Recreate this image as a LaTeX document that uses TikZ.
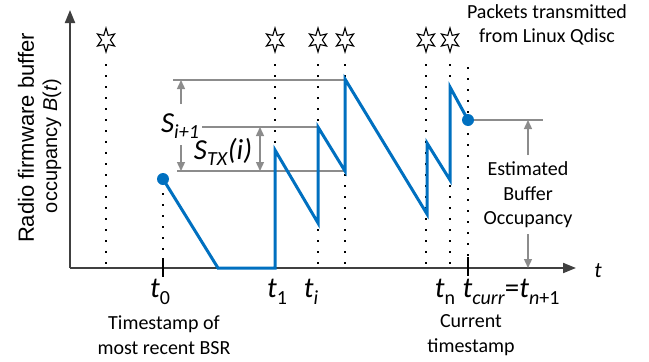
\documentclass[tikz,border=0pt]{standalone}
\usepackage{fontspec}
\setmainfont{Carlito}
\newfontfamily\arialf{Liberation Sans}
\usetikzlibrary{arrows.meta}
\definecolor{curveblue}{HTML}{0070C0}
\definecolor{guidegray}{HTML}{8C8C8C}
\definecolor{axisgray}{HTML}{404040}
\newcommand\sbx[1]{\raisebox{-0.22em}{\fontsize{20}{20}\selectfont #1}}
\tikzset{
  axisline/.style={draw=axisgray,line width=2pt},
  axisarrow/.style={-{Triangle[length=13pt,width=10pt]}},
  dotline/.style={draw=black,line width=2.2pt,dash pattern=on 2pt off 9pt},
  curve/.style={draw=curveblue,line width=3pt,line join=miter},
  guide/.style={draw=guidegray,line width=1.4pt},
  garrow/.style={draw=guidegray,line width=1.4pt,-{Triangle[length=9pt,width=8pt]},fill=guidegray},
  gdarrow/.style={draw=guidegray,line width=1.4pt,{Triangle[length=9pt,width=8pt]}-{Triangle[length=9pt,width=8pt]}},
  txt/.style={font=\fontsize{20}{24.5}\selectfont,align=center,inner sep=0pt},
  tlab/.style={font=\fontsize{29}{30}\selectfont,inner sep=0pt},
  slab/.style={font=\fontsize{29}{30}\selectfont,inner sep=0pt},
  star6/.pic={\draw[line width=1.1pt,xscale=0.82] (90:12) -- (120:5.3) -- (150:12) -- (180:5.3) -- (210:12) -- (240:5.3) -- (270:12) -- (300:5.3) -- (330:12) -- (0:5.3) -- (30:12) -- (60:5.3) -- cycle;},
  bdot/.style={circle,fill=curveblue,inner sep=0pt,minimum size=12pt}
}
\begin{document}
\begin{tikzpicture}[x=1pt,y=-1pt]
\useasboundingbox (0,0) rectangle (649,362);
% axes
\coordinate (O) at (70,268);
\coordinate (ytip) at (70,10);
\coordinate (xtip) at (576,268);
% stars
\foreach \n/\x in {a/106,b/275,c/318,d/345,e/426,f/450}{
  \pic (star\n) at (\x,40) {star6};
  \coordinate (top\n) at (\x,64);
  \coordinate (bot\n) at (\x,268);
}
\coordinate (topz) at (163,193);
\coordinate (botz) at (163,268);
\coordinate (topcur) at (468,67);
\coordinate (botcur) at (468,268);
\foreach \n in {a,b,c,d,e,f,z,cur}{\draw[dotline] (top\n) -- (bot\n);}
% axes drawn
\draw[axisline,axisarrow] (O) -- (ytip);
\draw[axisline,axisarrow] (O) -- (xtip);
\coordinate (tk0a) at (163,258); \coordinate (tk0b) at (163,277);
\coordinate (tkca) at (468,257); \coordinate (tkcb) at (468,276);
\draw[draw=black,line width=1.8pt] (tk0a) -- (tk0b);
\draw[draw=black,line width=1.8pt] (tkca) -- (tkcb);
% guide lines
\coordinate (g1a) at (173,80); \coordinate (g1b) at (345,80);
\coordinate (g2a) at (202,127); \coordinate (g2b) at (318,127);
\coordinate (g3a) at (177,171); \coordinate (g3b) at (345,171);
\coordinate (g4a) at (468,120); \coordinate (g4b) at (543,120);
\draw[guide] (g1a) -- (g1b);
\draw[guide] (g2a) -- (g2b);
\draw[guide] (g3a) -- (g3b);
\draw[guide] (g4a) -- (g4b);
% curve
\coordinate (p0) at (163,179);
\coordinate (p1) at (218,268);
\coordinate (p2) at (275,268);
\coordinate (p3) at (275,150);
\coordinate (p4) at (318,223);
\coordinate (p5) at (318,127);
\coordinate (p6) at (345,171);
\coordinate (p7) at (345,79);
\coordinate (p8) at (427,214);
\coordinate (p9) at (427,143);
\coordinate (p10) at (450,180);
\coordinate (p11) at (450,87);
\coordinate (p12) at (468,120);
\draw[curve] (p0) -- (p1) -- (p2) -- (p3) -- (p4) -- (p5) -- (p6) -- (p7) -- (p8) -- (p9) -- (p10) -- (p11) -- (p12);
\node[bdot] (d0) at (p0) {};
\node[bdot] (d1) at (p12) {};
% gray arrows
\coordinate (a1s) at (181,104); \coordinate (a1e) at (181,80);
\coordinate (a2s) at (181,145); \coordinate (a2e) at (181,171);
\coordinate (a3s) at (260,127); \coordinate (a3e) at (260,171);
\coordinate (a4s) at (528,155); \coordinate (a4e) at (528,120);
\coordinate (a5s) at (528,234); \coordinate (a5e) at (528,268);
\draw[garrow] (a1s) -- (a1e);
\draw[garrow] (a2s) -- (a2e);
\draw[gdarrow] (a3s) -- (a3e);
\draw[garrow] (a4s) -- (a4e);
\draw[garrow] (a5s) -- (a5e);
% S labels
\node[slab] (si1) at (180,126) {\textit{S}\sbx{\textit{i+1}}};
\node[slab] (stx) at (223,152) {\textit{S}\sbx{\textit{TX}}\textit{(i)}};
% texts
\node[txt] (pkt) at (547,25) {Packets transmitted\\from Linux Qdisc};
\node[txt] (est) at (528,195) {Estimated\\Buffer\\Occupancy};
\node[txt] (bsr) at (164,335) {Timestamp of\\most recent BSR};
\node[txt] (cur) at (471,335) {Current\\timestamp};
% time labels
\node[tlab] (t0) at (160,292) {\textit{t}\sbx{0}};
\node[tlab] (t1) at (277,292) {\textit{t}\sbx{1}};
\node[tlab] (ti) at (311,292) {\textit{t}\sbx{\textit{i}}};
\node[tlab] (tn) at (445,292) {\textit{t}\sbx{n}};
\node[tlab] (tc) at (511,292) {\textit{t}\sbx{\textit{curr}}=\textit{t}\sbx{\textit{n}+1}};
\node[font=\fontsize{22}{24}\selectfont\itshape,inner sep=0pt] (tax) at (598,271) {t};
% y label
\node[rotate=90,font=\arialf\fontsize{22}{24}\selectfont,inner sep=0pt] (yl1) at (26,138) {Radio firmware buffer};
\node[rotate=90,font=\arialf\fontsize{20}{24}\selectfont,inner sep=0pt] (yl2) at (52,146) {occupancy \textit{B}(\textit{t})};
\end{tikzpicture}
\end{document}
